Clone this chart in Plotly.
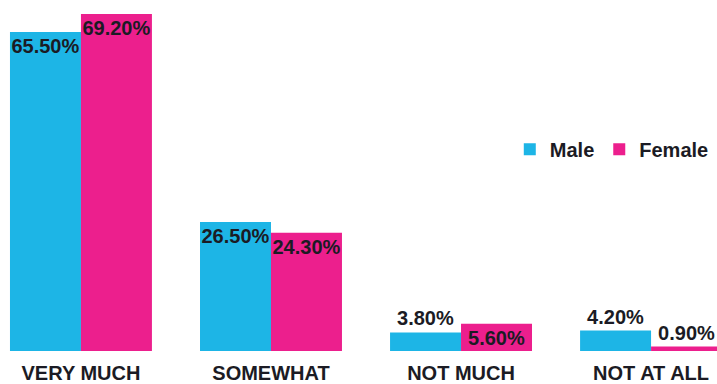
import plotly.graph_objects as go

categories = ["VERY MUCH", "SOMEWHAT", "NOT MUCH", "NOT AT ALL"]
male = [65.5, 26.5, 3.8, 4.2]
female = [69.2, 24.3, 5.6, 0.9]

male_pos = ["inside", "inside", "outside", "outside"]
female_pos = ["inside", "inside", "inside", "outside"]

FONT = "Liberation Sans, Arial, sans-serif"
CYAN = "#1DB5E6"
MAGENTA = "#EC1F8D"
TXT = "#1b1b24"

fig = go.Figure()
for name, vals, pos, color in [("Male", male, male_pos, CYAN),
                               ("Female", female, female_pos, MAGENTA)]:
    fig.add_trace(go.Bar(
        name=name, x=categories, y=vals,
        marker=dict(color=color, line=dict(width=0)),
        text=[f"{v:.2f}%" for v in vals],
        textposition=pos,
        textangle=0,
        insidetextanchor="end",
        constraintext="none",
        cliponaxis=False,
        textfont=dict(family=FONT, size=20, color=TXT, weight="bold"),
    ))

fig.update_layout(
    width=717, height=384,
    margin=dict(l=0, r=0, t=0, b=33, autoexpand=False),
    paper_bgcolor="white", plot_bgcolor="white",
    barmode="group", bargap=0.253, bargroupgap=0,
    showlegend=True,
    legend=dict(orientation="h", x=0.711, y=0.575, xanchor="left", yanchor="middle",
                font=dict(family=FONT, size=20, color=TXT, weight="bold"),
                itemwidth=30, bgcolor="rgba(0,0,0,0)", traceorder="normal"),
    xaxis=dict(range=[-0.426, 3.347], showgrid=False, zeroline=False, showline=False,
               ticks="", automargin=False, ticklabelstandoff=8,
               tickfont=dict(family=FONT, size=20, color=TXT, weight="bold")),
    yaxis=dict(range=[0, 72.07], visible=False, showgrid=False, zeroline=False),
)

fig.write_html("out.html")
